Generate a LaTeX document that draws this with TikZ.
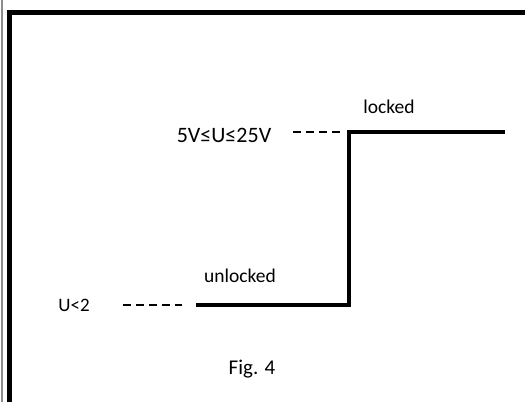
\documentclass[tikz,border=0pt]{standalone}
\usepackage{fontspec}
\setmainfont{Carlito}
\usetikzlibrary{positioning}

\begin{document}
\begin{tikzpicture}[x=1pt, y=-1pt,
    lbl/.style={inner sep=0pt, anchor=base, font=\fontsize{19.5}{23}\selectfont},
    steprun/.style={line width=4pt},
    guide/.style={line width=1.8pt, dash pattern=on 8pt off 5pt}]
    \useasboundingbox (0,0) rectangle (525,402);
    % frame
    \draw[line width=1.2pt, black!45] (2,0) -- (2,402);
    \draw[line width=5pt] (9.5,402) -- (9.5,12.5) -- (525,12.5);

    % step of the lock
    \coordinate (lowstart) at (196,305);
    \coordinate (lowcorner) at (349,305);
    \coordinate (hicorner) at (349,132);
    \coordinate (hiend) at (505,132);
    \draw[steprun] (lowstart) -- (lowcorner) -- (hicorner) -- (hiend);

    % levels
    \node[lbl, font=\fontsize{22}{26}\selectfont] (hi) at (224,142) {5V≤U≤25V};
    \node[lbl, font=\fontsize{19}{23}\selectfont] (lo) at (74,311) {U<2};
    \coordinate (hidash) at (293,132);
    \coordinate (lodash) at (123,305);
    \draw[guide, shorten >=8pt] (hidash) -- (hicorner);
    \draw[guide, shorten >=14pt] (lodash) -- (lowstart);

    % states
    \node[lbl] (locked) at (389,113) {locked};
    \node[lbl] (unlocked) at (240,282) {unlocked};
    \node[lbl, font=\fontsize{21}{25}\selectfont] (caption) at (252,374) {Fig. 4};
\end{tikzpicture}
\end{document}
